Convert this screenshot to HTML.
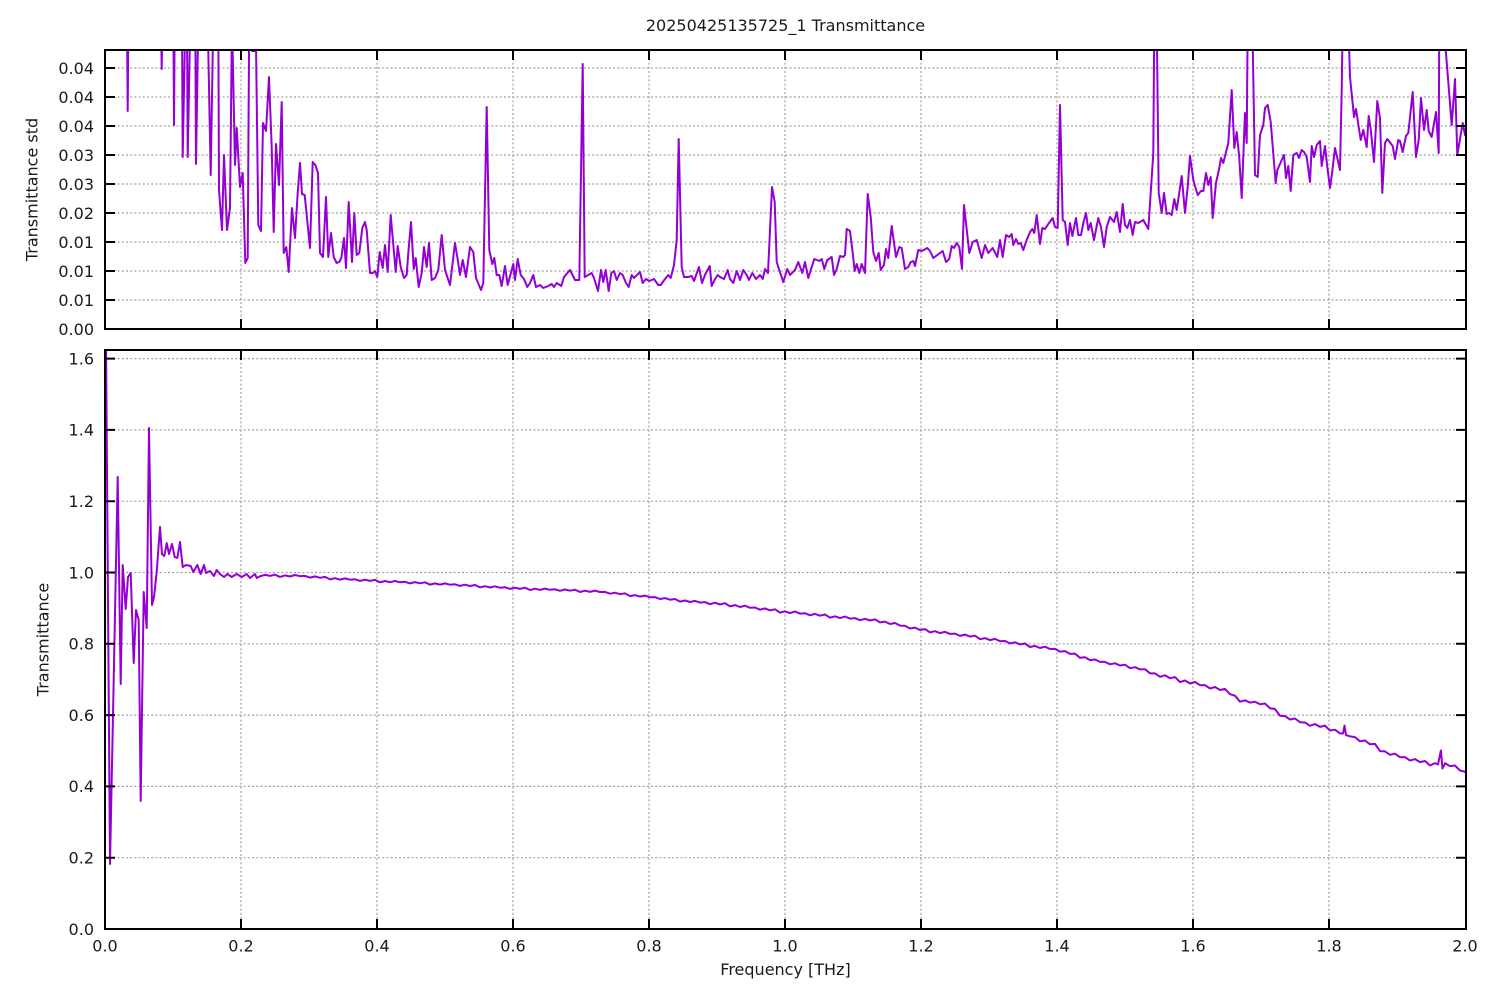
<!DOCTYPE html>
<html>
<head>
<meta charset="utf-8">
<style>
html,body{margin:0;padding:0;background:#fff;}
svg{display:block;}
text{font-family:"DejaVu Sans","Liberation Sans",sans-serif;fill:#1a1a1a;}
</style>
</head>
<body>
<svg width="1500" height="1000" viewBox="0 0 1500 1000" xmlns="http://www.w3.org/2000/svg">
<rect x="0" y="0" width="1500" height="1000" fill="#fff"/>
<defs>
<clipPath id="cTop"><rect x="105" y="50" width="1361" height="279"/></clipPath>
<clipPath id="cBot"><rect x="105" y="350" width="1361" height="579"/></clipPath>
</defs>

<text x="785.5" y="31" font-size="16" text-anchor="middle">20250425135725_1 Transmittance</text>

<!-- ===== TOP PLOT GRID ===== -->
<g stroke="#a0a0a0" stroke-width="1.2" stroke-dasharray="2,2.2" fill="none">
<line x1="105" y1="68" x2="1466" y2="68"/>
<line x1="105" y1="97" x2="1466" y2="97"/>
<line x1="105" y1="126" x2="1466" y2="126"/>
<line x1="105" y1="155" x2="1466" y2="155"/>
<line x1="105" y1="184" x2="1466" y2="184"/>
<line x1="105" y1="213" x2="1466" y2="213"/>
<line x1="105" y1="242" x2="1466" y2="242"/>
<line x1="105" y1="271" x2="1466" y2="271"/>
<line x1="105" y1="300" x2="1466" y2="300"/>
<line x1="241" y1="50" x2="241" y2="329"/>
<line x1="377" y1="50" x2="377" y2="329"/>
<line x1="513" y1="50" x2="513" y2="329"/>
<line x1="649" y1="50" x2="649" y2="329"/>
<line x1="785" y1="50" x2="785" y2="329"/>
<line x1="921" y1="50" x2="921" y2="329"/>
<line x1="1057" y1="50" x2="1057" y2="329"/>
<line x1="1193" y1="50" x2="1193" y2="329"/>
<line x1="1329" y1="50" x2="1329" y2="329"/>
</g>

<!-- ===== BOTTOM PLOT GRID ===== -->
<g stroke="#a0a0a0" stroke-width="1.2" stroke-dasharray="2,2.2" fill="none">
<line x1="105" y1="358.6" x2="1466" y2="358.6"/>
<line x1="105" y1="429.9" x2="1466" y2="429.9"/>
<line x1="105" y1="501.2" x2="1466" y2="501.2"/>
<line x1="105" y1="572.5" x2="1466" y2="572.5"/>
<line x1="105" y1="643.8" x2="1466" y2="643.8"/>
<line x1="105" y1="715.1" x2="1466" y2="715.1"/>
<line x1="105" y1="786.4" x2="1466" y2="786.4"/>
<line x1="105" y1="857.7" x2="1466" y2="857.7"/>
<line x1="241" y1="350" x2="241" y2="929"/>
<line x1="377" y1="350" x2="377" y2="929"/>
<line x1="513" y1="350" x2="513" y2="929"/>
<line x1="649" y1="350" x2="649" y2="929"/>
<line x1="785" y1="350" x2="785" y2="929"/>
<line x1="921" y1="350" x2="921" y2="929"/>
<line x1="1057" y1="350" x2="1057" y2="929"/>
<line x1="1193" y1="350" x2="1193" y2="929"/>
<line x1="1329" y1="350" x2="1329" y2="929"/>
</g>

<!-- ===== TOP SERIES ===== -->
<g clip-path="url(#cTop)">
<polyline fill="none" stroke="#9400d3" stroke-width="2" stroke-linejoin="round" points="105,20 127,20 127.7,111 128.4,20 161,20 161.7,69 162.4,20 173.4,20 174,125 174.7,20 182,20 182.7,157 185.3,20 187,20 187.7,157 190.3,20 195.3,20 196,164 198.3,20 207.7,20 210.7,175 213.3,20 218.3,20 219,190 222,230 224,155 227,230 230,208 232,20 235,165 236.7,128 240,187 242.7,173 245.3,263 247.7,258 249.2,20 252,51 254.7,51 255.7,20 258.3,225 261,231 263,123 266,131 269,77 271.7,147 273.7,232 276,144 279,185 281.7,102 283.7,253 286.3,247 288.7,272 292,208 295,238 297.7,193 300,163 302,194 304.7,195 310,248 312.7,162 315.3,165 318,173 320,253 323,257 326,197 328.3,257 331,233 333.7,257 336.7,263 339.3,262 341.3,258 344,238 346,268 348.7,202 352,262 354.3,213 356.7,255 359.3,253 362.3,228 365,222 366.7,230 370,273 372.7,273 375,271 377.3,277 379.7,252 382.7,268 385,245 387.7,272 390.7,215 395.7,272 397.7,246 400.7,267 404,278 406.7,275 408.3,253 411,222 413.7,269 415.7,258 418.7,287 421.7,273 424,247 426.7,267 429,243 431.7,280 435,278 438.3,270 441.7,235 445,270 450,285 455,243 457.3,257 460,275 462.7,260 466,277 470,247 473.3,252 476,278 481,290 483.3,283 486.7,107 489.3,250 492.3,264 494.3,258 496.7,275 499.3,275 501.7,286 505,266 507.7,285 513.3,264 515,280 517.7,259 520.7,275 524,279 527.3,287 530,283 533.3,275 536,287 540,285 543.3,288 548.3,286 551.7,284 554,287 556.7,283 561.3,286 564,277 570,270 575,280 579.3,280 582.7,64 584.7,277 588.3,275 591.7,273 594,278 598,291 601,270 603.3,282 605.7,270 608.7,291 611.3,273 614,271 616.7,280 620,273 622.7,275 626,283 628.7,287 631.7,275 634,278 640,272 642.7,283 646,279 649.3,281 654,279 658.3,285 660.7,285 665,279 668.3,275 670.7,278 674,265 676.7,240 678.7,139 681.7,267 684,277 688.3,277 691.7,276 694,281 699,267 702,283 705,275 709.7,266 711.7,286 715,279 717.7,275 720,277 724,279 727.7,270 730,279 733.3,283 736.7,271 740,280 743.3,270 746.7,275 749,280 752.3,273 756,279 760,275 762.7,279 765,269 768,273 772,187 774.7,202 776.7,262 779.3,270 783.3,282 787.3,269 790,275 795,270 798.3,262 802.3,273 805,262 808.3,278 811.7,267 814.3,259 819.3,261 821.7,259 824.3,269 827.3,260 831.7,257 834,275 836.7,269 840,256 843.3,257 845,255 846.7,229 850,231 852.7,253 854.7,271 856.7,264 859.3,273 861.7,264 865,273 867.7,194 870.7,217 873.3,252 876,261 878.7,253 880.7,270 884,265 886,249 888.3,258 891.7,226 896,257 899.3,247 901.7,248 905,269 908.3,267 910.7,262 913.3,261 915,266 918.3,250 921.7,251 927.3,248 930,251 933.3,258 942.7,251 946,262 949.3,259 951.7,246 954,248 956.7,243 959.3,247 962,269 964,205 969.3,253 972.7,242 976.7,240 981.7,258 985,245 988.3,253 992.7,248 997.3,257 1000,240 1002.7,257 1006,235 1009.3,237 1011.7,234 1013.3,245 1016,239 1018.3,244 1020.7,243 1023.3,250 1026.7,240 1030,232 1032.3,229 1034.3,233 1036.7,215 1040,244 1042.3,228 1045,229 1048.3,224 1052.7,218 1055,227 1057.7,228 1060,105 1062.7,220 1065,222 1067.7,245 1070,223 1072.3,236 1076,218 1078.3,235 1081,235 1083.3,223 1086,213 1088.3,230 1090.7,223 1094,240 1098.3,218 1101,227 1104,247 1106.7,227 1110,217 1114,222 1116.7,212 1120,232 1122.7,204 1125,225 1127.3,228 1130,220 1132.7,235 1135,222 1138.3,223 1143.3,220 1148.3,229 1150.7,193 1153.3,153 1154.3,20 1156.7,20 1158.7,193 1161.7,213 1164,193 1166.7,214 1169.3,213 1171.7,215 1174.3,199 1176.7,210 1181.7,176 1185,213 1187.7,187 1190,156 1193.3,180 1197.7,195 1201,191 1203.3,191 1206,173 1208.3,185 1210.7,177 1212.7,218 1216,183 1219.3,168 1221,158 1223.3,163 1228.3,143 1231.7,90 1234.3,148 1236.7,132 1239.3,158 1241.7,198 1245,113 1246.7,143 1247.7,20 1252.3,20 1255,175 1257.7,177 1260,135 1263.3,125 1265,108 1267.7,105 1270.7,122 1275.7,183 1277.3,170 1284,155 1286,178 1288.3,166 1290.7,191 1293.3,155 1296.7,153 1299,158 1301.7,150 1304,152 1306.7,157 1310,182 1311.7,146 1314,157 1316.7,145 1320,141 1321.7,166 1325,146 1327.3,167 1330,188 1332.3,171 1335,148 1340,170 1341.7,90 1342.7,20 1348.3,20 1350,77 1354,117 1356,109 1360.7,140 1363.3,130 1366.7,147 1368.7,116 1370.7,129 1374,162 1377.3,101 1380,118 1382.3,193 1385,143 1387.3,139 1392.7,146 1395,159 1398.3,140 1400,141 1402.7,152 1406,136 1408.3,133 1412.7,92 1416,157 1418.7,140 1421,98 1424,130 1426.7,110 1428.7,131 1431.7,137 1436,112 1438.7,153 1439.3,20 1443.3,20 1448.3,82 1451.7,125 1455,79 1457.3,155 1462.7,123 1465,135 1467,130"/>
</g>

<!-- ===== BOTTOM SERIES ===== -->
<g clip-path="url(#cBot)">
<polyline fill="none" stroke="#9400d3" stroke-width="2" stroke-linejoin="round" points="106,340 110,864 113.5,690 117.7,477 120.7,684 122.7,565 125.7,609 128,577 130.7,573 133.7,663 136,610 138.7,620 140.7,801 143.7,592 146.7,628 149,428 152,605 154,597 156.7,572 160,527 162,554 164.3,556 166.7,543 169,554 172,544 174.7,557 177.3,558 180,542 182.7,567 186,565 190.7,566 193.3,572 197.3,565 200.7,574 204,565 206,573 210,571 214,576 216.7,570 220,574 224,577 227.3,574 231.7,577 236.7,574 241.7,577 246.7,574 250,578 255,574 256.7,578 260,576.3 265,574.9 270,575.9 275,574.7 280,576.9 285,575.4 290,576.5 295,575.0 300,576.2 305,575.9 310,577.6 315,576.4 320,577.8 325,576.9 330,579.4 335,578.2 340,579.6 345,578.4 350,579.7 355,579.3 360,580.9 365,579.7 370,580.9 375,579.9 380,582.3 385,581.0 390,582.2 395,581.0 400,582.3 405,581.8 410,583.4 415,582.1 420,583.3 425,582.3 430,584.6 435,583.4 440,584.6 445,583.4 450,584.7 455,584.3 460,585.9 465,584.7 470,586.0 475,585.0 480,587.4 485,586.2 490,587.5 495,586.3 500,587.7 505,587.3 510,588.9 515,587.7 520,588.9 525,587.7 530,590.0 535,588.7 540,589.9 545,588.6 550,589.8 555,589.3 560,590.8 565,589.5 570,590.7 575,589.7 580,592.0 585,590.7 590,591.9 595,590.6 600,592.0 605,591.9 610,593.7 615,592.7 620,594.2 625,593.4 630,596.1 635,595.1 640,596.6 645,595.6 650,597.3 655,597.1 660,599.0 665,598.1 670,599.7 675,599.0 680,601.6 685,600.5 690,602.0 695,600.9 700,602.6 705,602.1 710,604.2 715,602.7 720,604.5 725,603.2 730,606.4 735,605.1 740,607.0 745,605.7 750,607.8 755,607.5 760,609.7 765,608.4 770,610.4 775,609.3 780,612.6 785,611.3 790,613.1 795,611.6 800,613.6 805,613.2 810,615.3 815,613.9 820,615.7 825,614.5 830,617.7 835,616.3 840,618.1 845,616.6 850,618.6 855,618.1 860,620.2 865,618.8 870,620.5 875,619.3 880,622.4 885,621.6 890,624.0 895,623.0 900,625.6 905,625.7 910,628.5 915,627.6 920,630.0 925,629.1 930,632.4 935,631.2 940,633.1 945,631.8 950,633.9 955,633.6 960,635.9 965,634.6 970,636.6 975,635.7 980,639.2 985,638.1 990,640.1 995,638.9 1000,641.2 1005,641.0 1010,643.4 1015,642.3 1020,644.4 1025,643.5 1030,647.0 1035,645.9 1040,648.0 1045,646.7 1050,649.0 1055,648.9 1060,651.6 1065,651.1 1070,653.9 1075,653.6 1080,657.8 1085,657.3 1090,660.1 1095,659.5 1100,661.9 1105,661.9 1110,664.3 1115,663.3 1120,665.5 1125,664.7 1130,668.2 1135,667.2 1140,669.4 1145,669.2 1150,673.4 1155,673.4 1160,676.8 1165,675.3 1170,678.2 1175,677.1 1180,682.1 1185,680.5 1190,683.5 1195,682.0 1200,685.2 1205,685.1 1210,688.5 1215,687.0 1220,690.0 1225,688.9 1230,694.2 1235,695.7 1240,701.7 1245,700.3 1250,702.6 1255,701.7 1260,704.3 1265,703.5 1270,708.3 1275,709.0 1280,715.8 1285,716.1 1290,719.5 1295,718.5 1300,722.2 1305,722.5 1310,725.8 1315,724.1 1320,726.9 1325,725.6 1330,730.5 1335,729.7 1340,733.4 1343,733.5 1344.5,725.5 1346,735 1350,736.4 1355,737.1 1360,741.3 1365,740.5 1370,744.3 1375,743.9 1380,751.1 1385,751.4 1390,754.8 1395,753.7 1400,757.2 1405,757.1 1410,760.6 1415,759.1 1420,762.1 1425,761.0 1430,765.5 1435,763.1 1438,764.5 1440.9,750.5 1442.5,768.5 1445,763.3 1450,766.1 1455,765.5 1460,770.6 1465,771.6 1466,773"/>
</g>

<!-- ===== TICKS ===== -->
<g stroke="#000" stroke-width="2" fill="none">
<path d="M105,68h10M105,97h10M105,126h10M105,155h10M105,184h10M105,213h10M105,242h10M105,271h10M105,300h10
M1466,68h-10M1466,97h-10M1466,126h-10M1466,155h-10M1466,184h-10M1466,213h-10M1466,242h-10M1466,271h-10M1466,300h-10"/>
<path d="M241,50v10M377,50v10M513,50v10M649,50v10M785,50v10M921,50v10M1057,50v10M1193,50v10M1329,50v10
M241,329v-10M377,329v-10M513,329v-10M649,329v-10M785,329v-10M921,329v-10M1057,329v-10M1193,329v-10M1329,329v-10"/>
<path d="M105,358.6h10M105,429.9h10M105,501.2h10M105,572.5h10M105,643.8h10M105,715.1h10M105,786.4h10M105,857.7h10
M1466,358.6h-10M1466,429.9h-10M1466,501.2h-10M1466,572.5h-10M1466,643.8h-10M1466,715.1h-10M1466,786.4h-10M1466,857.7h-10"/>
<path d="M241,350v10M377,350v10M513,350v10M649,350v10M785,350v10M921,350v10M1057,350v10M1193,350v10M1329,350v10
M241,929v-10M377,929v-10M513,929v-10M649,929v-10M785,929v-10M921,929v-10M1057,929v-10M1193,929v-10M1329,929v-10"/>
</g>

<!-- ===== BORDERS ===== -->
<rect x="105" y="50" width="1361" height="279" fill="none" stroke="#000" stroke-width="2"/>
<rect x="105" y="350" width="1361" height="579" fill="none" stroke="#000" stroke-width="2"/>

<!-- ===== TOP Y LABELS ===== -->
<g font-size="16" text-anchor="end">
<text x="94" y="73.8">0.04</text>
<text x="94" y="102.8">0.04</text>
<text x="94" y="131.8">0.04</text>
<text x="94" y="160.8">0.03</text>
<text x="94" y="189.8">0.03</text>
<text x="94" y="218.8">0.02</text>
<text x="94" y="247.8">0.01</text>
<text x="94" y="276.8">0.01</text>
<text x="94" y="305.8">0.01</text>
<text x="94" y="334.8">0.00</text>
</g>

<!-- ===== BOTTOM Y LABELS ===== -->
<g font-size="16" text-anchor="end">
<text x="94" y="364.4">1.6</text>
<text x="94" y="435.7">1.4</text>
<text x="94" y="507">1.2</text>
<text x="94" y="578.3">1.0</text>
<text x="94" y="649.6">0.8</text>
<text x="94" y="720.9">0.6</text>
<text x="94" y="792.2">0.4</text>
<text x="94" y="863.5">0.2</text>
<text x="94" y="934.8">0.0</text>
</g>

<!-- ===== X LABELS ===== -->
<g font-size="16" text-anchor="middle">
<text x="105" y="951.5">0.0</text>
<text x="241" y="951.5">0.2</text>
<text x="377" y="951.5">0.4</text>
<text x="513" y="951.5">0.6</text>
<text x="649" y="951.5">0.8</text>
<text x="785" y="951.5">1.0</text>
<text x="921" y="951.5">1.2</text>
<text x="1057" y="951.5">1.4</text>
<text x="1193" y="951.5">1.6</text>
<text x="1329" y="951.5">1.8</text>
<text x="1465" y="951.5">2.0</text>
</g>
<text x="785.5" y="975" font-size="16" text-anchor="middle">Frequency [THz]</text>

<text transform="translate(37.5,189.5) rotate(-90)" font-size="16" text-anchor="middle">Transmittance std</text>
<text transform="translate(48.5,639.5) rotate(-90)" font-size="16" text-anchor="middle">Transmittance</text>
</svg>
</body>
</html>
